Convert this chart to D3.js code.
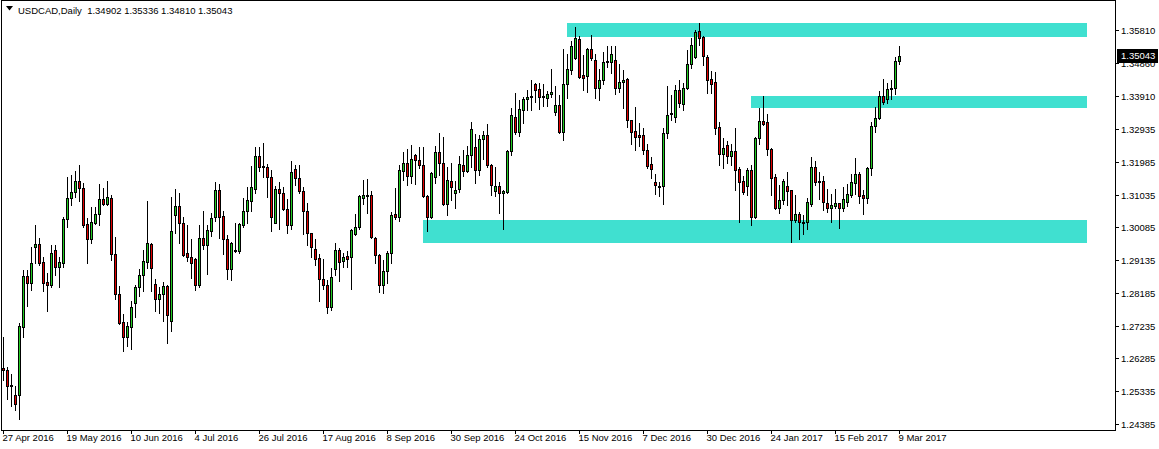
<!DOCTYPE html>
<html>
<head>
<meta charset="utf-8">
<script src="https://cdn.jsdelivr.net/npm/d3@7"></script>
<style>
body { margin: 0; background: #fff; }
svg text { font-family: "Liberation Sans", Arial, sans-serif; }
</style>
</head>
<body>
<div id="chart"></div>
<script>
// ---- data ----
var symbolName = "USDCAD,Daily";
var firstDay = "2016-04-27";
var holidays = ["2016-12-26", "2017-01-02"];   // no bars on these weekdays

var openP = [
  1.26008, 1.25950, 1.25486, 1.25225, 1.25225, 1.27197, 1.28676, 1.28473, 1.29517, 1.29604,
  1.29082, 1.28502, 1.28415, 1.29430, 1.28937, 1.29053, 1.30329, 1.30938, 1.31112, 1.31431,
  1.31228, 1.30184, 1.29749, 1.30213, 1.30474, 1.30909, 1.30764, 1.30938, 1.29314, 1.28154,
  1.27342, 1.26907, 1.27197, 1.27893, 1.28357, 1.28705, 1.29082, 1.29604, 1.28444, 1.28009,
  1.28154, 1.28386, 1.27371, 1.30445, 1.30706, 1.30213, 1.29343, 1.29227, 1.29169, 1.28415,
  1.29778, 1.29575, 1.29981, 1.30387, 1.31170, 1.30416, 1.29749, 1.28879, 1.29401, 1.29401,
  1.30155, 1.30561, 1.30851, 1.31199, 1.32156, 1.31866, 1.31837, 1.31547, 1.30213, 1.31199,
  1.31083, 1.30619, 1.30155, 1.31779, 1.31518, 1.31141, 1.30561, 1.29923, 1.29459, 1.29198,
  1.28589, 1.28415, 1.27777, 1.28879, 1.29430, 1.29111, 1.29256, 1.29227, 1.29894, 1.30097,
  1.30938, 1.31025, 1.31025, 1.29778, 1.29285, 1.28415, 1.28821, 1.29343, 1.30474, 1.30387,
  1.31721, 1.31953, 1.31576, 1.32185, 1.32040, 1.31895, 1.30996, 1.30387, 1.31547, 1.32272,
  1.31953, 1.30764, 1.31431, 1.31083, 1.31199, 1.31895, 1.31721, 1.32185, 1.32417, 1.31750,
  1.32649, 1.32765, 1.31895, 1.31141, 1.31286, 1.31083, 1.31112, 1.32301, 1.33287, 1.32852,
  1.33490, 1.33809, 1.33867, 1.34244, 1.34099, 1.33896, 1.33838, 1.33954, 1.33432, 1.33635,
  1.32852, 1.34244, 1.34650, 1.34998, 1.35549, 1.34505, 1.34476, 1.35259, 1.34940, 1.34128,
  1.34360, 1.34882, 1.34882, 1.34940, 1.34128, 1.34302, 1.34389, 1.33200, 1.32881, 1.32765,
  1.32765, 1.32330, 1.31924, 1.31402, 1.31286, 1.31286, 1.32823, 1.33374, 1.33287, 1.34070,
  1.33664, 1.34128, 1.34824, 1.35027, 1.35781, 1.35607, 1.35027, 1.34389, 1.34302, 1.32997,
  1.32214, 1.32475, 1.32156, 1.32301, 1.31779, 1.31431, 1.31286, 1.31750, 1.30387, 1.32678,
  1.33171, 1.33142, 1.32359, 1.31547, 1.30648, 1.30880, 1.31286, 1.31170, 1.30300, 1.30474,
  1.30242, 1.30242, 1.30764, 1.31837, 1.31431, 1.31431, 1.30793, 1.30648, 1.30706, 1.30793,
  1.30648, 1.30822, 1.31025, 1.31373, 1.31634, 1.31025, 1.30938, 1.31808, 1.33026, 1.33258,
  1.33896, 1.33809, 1.34099, 1.34128, 1.34902
];

var highP = [
  1.26907, 1.26037, 1.25834, 1.25486, 1.27313, 1.28850, 1.28850, 1.29517, 1.30155, 1.29778,
  1.29227, 1.28763, 1.29575, 1.29575, 1.29227, 1.30387, 1.31547, 1.31605, 1.31721, 1.31895,
  1.31373, 1.30358, 1.30677, 1.30677, 1.31344, 1.31228, 1.31431, 1.31025, 1.29807, 1.28386,
  1.27574, 1.27342, 1.27951, 1.28415, 1.28879, 1.29430, 1.30851, 1.29633, 1.28589, 1.28357,
  1.28502, 1.28415, 1.30967, 1.31199, 1.31083, 1.30387, 1.30155, 1.29749, 1.29198, 1.30155,
  1.30561, 1.30155, 1.30503, 1.31402, 1.31344, 1.30561, 1.29865, 1.29662, 1.30213, 1.30213,
  1.30938, 1.31257, 1.31866, 1.32417, 1.32417, 1.32533, 1.31924, 1.31750, 1.31286, 1.31402,
  1.31257, 1.30909, 1.32011, 1.31895, 1.31895, 1.31257, 1.30793, 1.29923, 1.29749, 1.29314,
  1.29169, 1.28560, 1.28908, 1.29633, 1.29488, 1.29343, 1.29401, 1.30039, 1.30474, 1.31025,
  1.31460, 1.31489, 1.31141, 1.29807, 1.29314, 1.29140, 1.29401, 1.30532, 1.31228, 1.31895,
  1.32272, 1.32359, 1.32475, 1.32214, 1.32417, 1.32417, 1.31025, 1.31692, 1.32446, 1.32823,
  1.32707, 1.31837, 1.31953, 1.31431, 1.32156, 1.32330, 1.32446, 1.33142, 1.32794, 1.32765,
  1.32881, 1.33084, 1.31924, 1.31837, 1.31402, 1.31170, 1.32330, 1.33548, 1.33983, 1.33780,
  1.33867, 1.34070, 1.34360, 1.34273, 1.34273, 1.34244, 1.34041, 1.34679, 1.34186, 1.33925,
  1.35259, 1.35114, 1.35491, 1.35897, 1.35636, 1.35085, 1.35288, 1.35665, 1.35114, 1.34679,
  1.35172, 1.35346, 1.35346, 1.35346, 1.34824, 1.34650, 1.34418, 1.33200, 1.33577, 1.33113,
  1.32968, 1.32504, 1.32127, 1.31634, 1.31402, 1.32968, 1.34186, 1.33925, 1.34215, 1.34360,
  1.34273, 1.35230, 1.35578, 1.35810, 1.36013, 1.35636, 1.35085, 1.34621, 1.34592, 1.33142,
  1.32678, 1.32591, 1.32504, 1.32968, 1.31837, 1.31576, 1.31808, 1.31895, 1.32707, 1.33548,
  1.33896, 1.33374, 1.32388, 1.31634, 1.31315, 1.31489, 1.31692, 1.31170, 1.31025, 1.30532,
  1.30445, 1.30938, 1.32127, 1.32011, 1.31692, 1.31576, 1.31199, 1.31054, 1.31199, 1.30793,
  1.31257, 1.31344, 1.31634, 1.32098, 1.31692, 1.31170, 1.31837, 1.33142, 1.33577, 1.34041,
  1.34389, 1.34273, 1.34360, 1.35027, 1.35336
];

var lowP = [
  1.25660, 1.25109, 1.24906, 1.24790, 1.24529, 1.26907, 1.27806, 1.28270, 1.29053, 1.28995,
  1.28241, 1.27661, 1.28357, 1.28705, 1.28357, 1.28937, 1.30097, 1.30735, 1.30967, 1.30851,
  1.30097, 1.29053, 1.29633, 1.30184, 1.30155, 1.30735, 1.30735, 1.29140, 1.28009, 1.27284,
  1.26501, 1.26646, 1.26559, 1.27487, 1.28096, 1.28241, 1.28908, 1.28241, 1.27661, 1.27603,
  1.27371, 1.26733, 1.27081, 1.29923, 1.29633, 1.29256, 1.29111, 1.28618, 1.28270, 1.28357,
  1.29459, 1.28734, 1.29836, 1.30271, 1.29778, 1.29314, 1.28589, 1.28560, 1.29372, 1.29343,
  1.30097, 1.30213, 1.30561, 1.31083, 1.31721, 1.31547, 1.30967, 1.29981, 1.30213, 1.30039,
  1.30590, 1.29923, 1.30039, 1.31315, 1.31083, 1.29894, 1.29575, 1.29227, 1.28995, 1.27951,
  1.28299, 1.27603, 1.27690, 1.28705, 1.28531, 1.28937, 1.28937, 1.28299, 1.29865, 1.30039,
  1.30764, 1.30503, 1.29778, 1.29053, 1.28212, 1.28183, 1.28473, 1.29053, 1.30329, 1.30271,
  1.31460, 1.31315, 1.31373, 1.31344, 1.31808, 1.30967, 1.29981, 1.30358, 1.31373, 1.31605,
  1.30735, 1.30445, 1.30880, 1.30648, 1.31112, 1.31576, 1.31692, 1.31837, 1.31373, 1.31605,
  1.32069, 1.31837, 1.31025, 1.30996, 1.30503, 1.30039, 1.31083, 1.32185, 1.32794, 1.32736,
  1.33113, 1.33490, 1.33490, 1.33722, 1.33519, 1.33606, 1.33606, 1.33867, 1.33345, 1.32823,
  1.32620, 1.33838, 1.34534, 1.34969, 1.34418, 1.34070, 1.34012, 1.34940, 1.33838, 1.33780,
  1.34244, 1.34737, 1.34563, 1.33954, 1.34012, 1.33548, 1.32997, 1.32504, 1.32330, 1.32446,
  1.32214, 1.31808, 1.31518, 1.31054, 1.30996, 1.30764, 1.32678, 1.33200, 1.33142, 1.33577,
  1.33490, 1.34099, 1.34708, 1.34998, 1.35375, 1.34795, 1.33983, 1.33983, 1.32794, 1.31895,
  1.31808, 1.31953, 1.31895, 1.31170, 1.30242, 1.31054, 1.31025, 1.30155, 1.30358, 1.32504,
  1.33055, 1.32185, 1.31025, 1.30619, 1.30503, 1.30764, 1.30735, 1.29662, 1.30242, 1.29749,
  1.29894, 1.30039, 1.30706, 1.31315, 1.30909, 1.30590, 1.30532, 1.30242, 1.30648, 1.30068,
  1.30561, 1.30706, 1.30967, 1.31054, 1.30793, 1.30474, 1.30793, 1.31605, 1.32852, 1.33229,
  1.33664, 1.33693, 1.33809, 1.33954, 1.34810
];

var closeP = [
  1.25950, 1.25486, 1.25515, 1.24964, 1.27226, 1.28676, 1.28473, 1.29053, 1.29604, 1.29053,
  1.28473, 1.28415, 1.29343, 1.28937, 1.29082, 1.30329, 1.30938, 1.31112, 1.31431, 1.31228,
  1.30155, 1.29749, 1.30242, 1.30474, 1.30909, 1.30764, 1.30967, 1.29314, 1.28154, 1.27313,
  1.26907, 1.27226, 1.27777, 1.28357, 1.28705, 1.29111, 1.29633, 1.28908, 1.28009, 1.28154,
  1.28386, 1.27545, 1.29981, 1.30706, 1.30213, 1.29285, 1.29227, 1.29053, 1.28415, 1.29778,
  1.29575, 1.30010, 1.30358, 1.31170, 1.30387, 1.29749, 1.28879, 1.29633, 1.29430, 1.30184,
  1.30561, 1.30880, 1.31257, 1.32156, 1.31837, 1.31837, 1.31547, 1.30387, 1.31199, 1.31083,
  1.30619, 1.30155, 1.31692, 1.31518, 1.31141, 1.30561, 1.29923, 1.29517, 1.29169, 1.28589,
  1.28415, 1.27777, 1.28647, 1.29430, 1.29082, 1.29227, 1.29169, 1.30010, 1.30097, 1.30996,
  1.31025, 1.30996, 1.29807, 1.29285, 1.28415, 1.28821, 1.29343, 1.30445, 1.30387, 1.31750,
  1.31953, 1.31576, 1.32069, 1.32040, 1.31895, 1.30996, 1.30387, 1.31663, 1.32272, 1.31953,
  1.30764, 1.31460, 1.31257, 1.31170, 1.31924, 1.31721, 1.32185, 1.32939, 1.31750, 1.32649,
  1.32765, 1.31895, 1.31315, 1.31286, 1.31083, 1.31141, 1.32301, 1.33345, 1.32852, 1.33519,
  1.33809, 1.33867, 1.33896, 1.34070, 1.33867, 1.33867, 1.33954, 1.34012, 1.33635, 1.32852,
  1.34244, 1.34679, 1.35346, 1.35578, 1.34447, 1.34418, 1.35259, 1.34998, 1.34128, 1.34360,
  1.34882, 1.34911, 1.35114, 1.34128, 1.34302, 1.34360, 1.33200, 1.32852, 1.32707, 1.32707,
  1.32330, 1.31866, 1.31779, 1.31315, 1.31257, 1.32823, 1.33345, 1.33403, 1.34070, 1.33693,
  1.34128, 1.34824, 1.35375, 1.35752, 1.35578, 1.35056, 1.34360, 1.34244, 1.32968, 1.32214,
  1.32388, 1.32156, 1.32301, 1.31750, 1.31402, 1.31112, 1.31750, 1.30387, 1.32678, 1.33171,
  1.33084, 1.32359, 1.31518, 1.30648, 1.30880, 1.31431, 1.31141, 1.30300, 1.30474, 1.30242,
  1.30213, 1.30822, 1.31837, 1.31402, 1.31402, 1.30822, 1.30648, 1.30735, 1.30793, 1.30648,
  1.30909, 1.31054, 1.31402, 1.31634, 1.30996, 1.30938, 1.31808, 1.33026, 1.33258, 1.33896,
  1.33722, 1.34099, 1.34128, 1.34911, 1.35043
];

// price scale labels (as printed on the right axis)
var priceTicks = [1.35810, 1.34860, 1.33910, 1.32935, 1.31985, 1.31035, 1.30085,
                  1.29135, 1.28185, 1.27235, 1.26285, 1.25335, 1.24385];

// date labels on the time axis
var dateTicks = ["27 Apr 2016", "19 May 2016", "10 Jun 2016", "4 Jul 2016", "26 Jul 2016",
                 "17 Aug 2016", "8 Sep 2016", "30 Sep 2016", "24 Oct 2016", "15 Nov 2016",
                 "7 Dec 2016", "30 Dec 2016", "24 Jan 2017", "15 Feb 2017", "9 Mar 2017"];

// support / resistance zones: start day, end day, upper and lower price
var zoneStart = ["2016-11-10", "2017-01-17", "2016-09-21"];
var zoneEnd = ["2017-05-15", "2017-05-15", "2017-05-15"];
var zoneTop = [1.36013, 1.33896, 1.30300];
var zoneBottom = [1.35607, 1.33548, 1.29633];

// ---- layout ----
var width = 1159, height = 449;
var plotRight = 1115, plotBottom = 430;
var barStep = 4, firstBarX = 3;
var bullColor = "#22cc22", bearColor = "#e00000", zoneColor = "#40e0d0";

// trading days (Mon-Fri minus holidays), running on past the data so the zones reach to the right
var parseDay = d3.timeParse("%Y-%m-%d");
var fmtDay = d3.timeFormat("%-d %b %Y");
var isoDay = d3.timeFormat("%Y-%m-%d");
var days = d3.timeDay.range(parseDay(firstDay), parseDay("2017-06-01"))
    .filter(function(d) {
        return d.getDay() != 0 && d.getDay() != 6 && holidays.indexOf(isoDay(d)) < 0;
    });
function dayIndex(s) {
    return days.findIndex(function(d) { return isoDay(d) == s; });
}

var n = closeP.length;
var x = d3.scaleLinear()
    .domain([0, n - 1])
    .range([firstBarX, firstBarX + barStep * (n - 1)]);
var y = d3.scaleLinear()
    .domain([1.24385, 1.35810])
    .range([424, 30]);

var svg = d3.select("#chart").append("svg")
    .attr("width", width)
    .attr("height", height)
    .style("display", "block");

//zones go under the candles
var zones = zoneStart.map(function(s, i) {
    return {from: dayIndex(s), to: dayIndex(zoneEnd[i]), top: zoneTop[i], bottom: zoneBottom[i]};
});
svg.append("g").selectAll("rect")
    .data(zones)
    .enter().append("rect")
    .attr("x", function(d) { return Math.round(x(d.from)); })
    .attr("width", function(d) { return Math.round(x(d.to)) - Math.round(x(d.from)); })
    .attr("y", function(d) { return Math.round(y(d.top)); })
    .attr("height", function(d) { return Math.round(y(d.bottom)) - Math.round(y(d.top)); })
    .attr("fill", zoneColor);

//candles
var bars = d3.range(n).map(function(i) {
    return {i: i, o: openP[i], h: highP[i], l: lowP[i], c: closeP[i]};
});
var candle = svg.append("g")
    .attr("shape-rendering", "crispEdges")
    .selectAll("g")
    .data(bars)
    .enter().append("g");

candle.append("rect")       // wick
    .attr("x", function(d) { return Math.round(x(d.i)); })
    .attr("width", 1)
    .attr("y", function(d) { return Math.round(y(d.h)); })
    .attr("height", function(d) { return Math.max(1, Math.round(y(d.l)) - Math.round(y(d.h)) + 1); })
    .attr("fill", "#000");

function bodyTop(d) { return Math.round(y(Math.max(d.o, d.c))); }
function bodyBottom(d) { return Math.round(y(Math.min(d.o, d.c))); }

candle.append("rect")       // body outline
    .attr("x", function(d) { return Math.round(x(d.i)) - 1; })
    .attr("width", 3)
    .attr("y", bodyTop)
    .attr("height", function(d) { return bodyBottom(d) - bodyTop(d) + 1; })
    .attr("fill", "#000");

candle.filter(function(d) { return bodyBottom(d) - bodyTop(d) > 1; })
    .append("rect")         // body fill
    .attr("x", function(d) { return Math.round(x(d.i)); })
    .attr("width", 1)
    .attr("y", function(d) { return bodyTop(d) + 1; })
    .attr("height", function(d) { return bodyBottom(d) - bodyTop(d) - 1; })
    .attr("fill", function(d) { return d.c >= d.o ? bullColor : bearColor; });

//frame and axis lines
var frame = svg.append("g").attr("shape-rendering", "crispEdges").attr("stroke", "#000");
frame.append("line").attr("x1", 1.5).attr("x2", 1.5).attr("y1", 0).attr("y2", plotBottom + 1);
frame.append("line").attr("x1", 1).attr("x2", plotRight + 1).attr("y1", 0.5).attr("y2", 0.5);
frame.append("line").attr("x1", plotRight + 0.5).attr("x2", plotRight + 0.5).attr("y1", 0).attr("y2", plotBottom + 1);
frame.append("line").attr("x1", 1).attr("x2", plotRight + 1).attr("y1", plotBottom + 0.5).attr("y2", plotBottom + 0.5);

//right price scale
var pt = svg.append("g").selectAll("g")
    .data(priceTicks)
    .enter().append("g")
    .attr("transform", function(d) { return "translate(0," + (Math.round(y(d)) + 0.5) + ")"; });
pt.append("line")
    .attr("x1", plotRight).attr("x2", plotRight + 4)
    .attr("stroke", "#000")
    .attr("shape-rendering", "crispEdges");
pt.append("text")
    .attr("x", plotRight + 6)
    .attr("dy", "0.35em")
    .attr("font-size", "9.5px")
    .attr("fill", "#000")
    .text(function(d) { return d.toFixed(5); });

//current price tag, drawn over the scale like the terminal does
var last = closeP[n - 1];
var lastY = Math.round(y(last));
svg.append("rect")
    .attr("x", plotRight + 2).attr("y", lastY - 7)
    .attr("width", 41).attr("height", 14)
    .attr("fill", "#000");
svg.append("text")
    .attr("x", plotRight + 6).attr("y", lastY)
    .attr("dy", "0.35em")
    .attr("font-size", "9.5px")
    .attr("fill", "#fff")
    .text(last.toFixed(5));

//time scale
var dt = svg.append("g").selectAll("g")
    .data(dateTicks)
    .enter().append("g")
    .attr("transform", function(d) {
        var i = days.findIndex(function(t) { return fmtDay(t) == d; });
        return "translate(" + (Math.round(x(i)) + 0.5) + "," + plotBottom + ")";
    });
dt.append("line")
    .attr("y1", 0).attr("y2", 4)
    .attr("stroke", "#000")
    .attr("shape-rendering", "crispEdges");
dt.append("text")
    .attr("x", -1)
    .attr("y", 11)
    .attr("font-size", "9.5px")
    .attr("fill", "#000")
    .text(function(d) { return d; });

//title line
svg.append("path")
    .attr("d", "M6,6 L13,6 L9.5,10.5 Z")
    .attr("fill", "#000");
svg.append("text")
    .attr("x", 18)
    .attr("y", 14)
    .attr("font-size", "9.5px")
    .attr("fill", "#000")
    .style("white-space", "pre")
    .text(symbolName + "  " + [openP[n - 1], highP[n - 1], lowP[n - 1], closeP[n - 1]]
        .map(function(v) { return v.toFixed(5); }).join(" "));
</script>
</body>
</html>
